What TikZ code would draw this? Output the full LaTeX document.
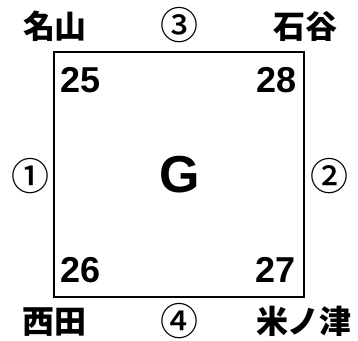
\documentclass[tikz,border=0pt]{standalone}
\usepackage{fontspec}
\setmainfont{Liberation Sans}
\newfontfamily\jpfont{Noto Sans CJK JP}
\newfontfamily\jpmedium{Noto Sans CJK JP Medium}
\tikzset{
  kanji/.style={inner sep=0pt, font=\jpfont\bfseries\fontsize{24pt}{24pt}\selectfont},
  circnum/.style={inner sep=0pt, font=\jpmedium\fontsize{28.5pt}{28.5pt}\selectfont},
  corner/.style={inner sep=0pt, font=\bfseries\fontsize{27pt}{27pt}\selectfont},
  bigletter/.style={inner sep=0pt, font=\bfseries\fontsize{39pt}{39pt}\selectfont},
  boxline/.style={draw=black, line width=1.5pt}
}
\begin{document}
\begin{tikzpicture}[x=0.75pt,y=-0.75pt]
\useasboundingbox (0,0) rectangle (358,341);
\coordinate (tl) at (53.5,52.5);
\coordinate (br) at (303.5,297);
\draw[boxline] (tl) rectangle (br);
\node[kanji] (nayama) at (55,26) {名山};
\node[kanji] (ishitani) at (305,26) {石谷};
\node[kanji] (nishida) at (54,322) {西田};
\node[kanji] (komenotsu) at (304,321) {米ノ津};
\node[circnum] (c3) at (180,25) {③};
\node[circnum] (c4) at (180,321) {④};
\node[circnum] (c1) at (30.5,176) {①};
\node[circnum] (c2) at (329.5,176) {②};
\node[corner] (n25) at (80.5,80) {25};
\node[corner] (n28) at (276.5,80) {28};
\node[corner] (n26) at (80.5,270) {26};
\node[corner] (n27) at (275.5,270) {27};
\node[bigletter] (g) at (180,175) {G};
\end{tikzpicture}
\end{document}
